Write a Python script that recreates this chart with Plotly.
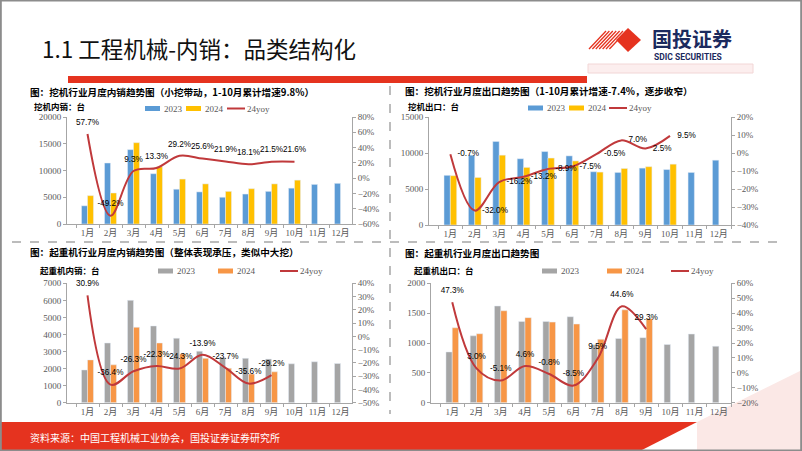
import plotly.graph_objects as go

W, H = 802, 451

months = ['1月', '2月', '3月', '4月', '5月', '6月', '7月', '8月', '9月', '10月', '11月', '12月']

exc_dom_2023 = [3400, 11400, 13900, 9400, 6500, 6000, 5000, 5600, 6100, 6700, 7400, 7600]
exc_dom_2024 = [5300, 5800, 15200, 10700, 8400, 7500, 6100, 6600, 7500, 8200]
exc_dom_yoy = [57.7, -49.2, 9.3, 13.3, 29.2, 25.6, 21.9, 18.1, 21.5, 21.6]

exc_exp_2023 = [6900, 9700, 11600, 9200, 10200, 9600, 7400, 7300, 7900, 7700, 7300, 9000]
exc_exp_2024 = [6850, 6600, 9700, 8000, 9300, 8900, 7350, 7850, 8100, 8450]
exc_exp_yoy = [-0.7, -32.0, -16.2, -13.2, -8.9, -7.5, -0.5, 7.0, 2.5, 9.5]

crane_dom_2023 = [1920, 3500, 6000, 4500, 3780, 3020, 2650, 2600, 2560, 2280, 2400, 2300]
crane_dom_2024 = [2510, 2220, 4420, 3500, 2860, 2600, 2020, 1680, 1810]
crane_dom_yoy = [30.9, -36.4, -26.3, -22.3, -24.3, -13.9, -23.7, -35.6, -29.2]

crane_exp_2023 = [850, 1120, 1620, 1360, 1360, 1440, 970, 1075, 1090, 975, 1150, 945]
crane_exp_2024 = [1255, 1155, 1540, 1425, 1350, 1318, 1062, 1555, 1410]
crane_exp_yoy = [47.3, 3.0, -5.1, 4.6, -0.8, -8.5, 9.5, 44.6, 29.3]

BLUE = '#5B9BD5'
YELLOW = '#FFC000'
GRAY = '#A5A5A5'
ORANGE = '#F79646'
LINE = '#C0393B'
RED = '#E5331F'
TICK = '#595959'
AXL = '#A6A6A6'
SERIF = 'Liberation Serif, Noto Sans CJK SC'
CJK = 'Noto Sans CJK SC'


def px(x):
    return x / W


def py(y):
    return 1 - y / H


fig = go.Figure()

charts = [
    ('x', 'y', 'y2', BLUE, YELLOW, exc_dom_2023, exc_dom_2024, exc_dom_yoy, 'top center'),
    ('x2', 'y3', 'y4', BLUE, YELLOW, exc_exp_2023, exc_exp_2024, exc_exp_yoy, 'middle right'),
    ('x3', 'y5', 'y6', GRAY, ORANGE, crane_dom_2023, crane_dom_2024, crane_dom_yoy, 'top center'),
    ('x4', 'y7', 'y8', GRAY, ORANGE, crane_exp_2023, crane_exp_2024, crane_exp_yoy, 'top center'),
]

for xa, yl, yr, c23, c24, d23, d24, yoy, tp in charts:
    fig.add_trace(go.Bar(x=months, y=d23, marker_color=c23, xaxis=xa, yaxis=yl,
                         offsetgroup='a', showlegend=False, name='2023'))
    fig.add_trace(go.Bar(x=months[:len(d24)], y=d24, marker_color=c24, xaxis=xa, yaxis=yl,
                         offsetgroup='b', showlegend=False, name='2024'))
    fig.add_trace(go.Scatter(x=months[:len(yoy)], y=yoy, mode='lines', xaxis=xa, yaxis=yr,
                             line=dict(color=LINE, width=2, shape='spline', smoothing=1),
                             showlegend=False, name='24yoy'))
    fig.add_trace(go.Scatter(x=months[:len(yoy)], y=yoy, mode='markers+text', xaxis=xa, yaxis=yr,
                             marker=dict(size=10, opacity=0),
                             text=[f'{v:.1f}%' for v in yoy], textposition=tp,
                             textfont=dict(family='Liberation Sans', size=8.2, color='#000000'),
                             cliponaxis=False, showlegend=False, hoverinfo='skip'))

tickfont = dict(family=SERIF, size=9, color=TICK)


def xax(x0, x1, anchor):
    return dict(domain=[px(x0), px(x1)], anchor=anchor, type='category',
                showline=True, linecolor=AXL, linewidth=1, ticks='outside', ticklen=3,
                tickcolor=AXL, tickson='boundaries', tickfont=tickfont, showgrid=False,
                tickangle=0, automargin=False, fixedrange=True)


def yax(y0, y1, anchor, rng, dtick, suffix='', side='left', overlay=None):
    d = dict(anchor=anchor, range=rng, dtick=dtick, showline=True, linecolor=AXL, linewidth=1,
             ticks='outside', ticklen=3, tickcolor=AXL, tickfont=tickfont, showgrid=False,
             zeroline=False, ticksuffix=suffix, side=side, tickformat='d', automargin=False,
             fixedrange=True)
    if overlay:
        d['overlaying'] = overlay
    else:
        d['domain'] = [py(y1), py(y0)]
    return d


fig.update_layout(
    width=W, height=H, margin=dict(l=0, r=0, t=0, b=0, autoexpand=False),
    paper_bgcolor='white', plot_bgcolor='rgba(0,0,0,0)',
    barmode='group', bargap=0.48, bargroupgap=0,
    showlegend=False,
    xaxis=xax(67, 352, 'y'),
    yaxis=yax(117, 224, 'x', [0, 20000], 5000),
    yaxis2=yax(117, 224, 'x', [-60, 80], 20, '%', 'right', 'y'),
    xaxis2=xax(429, 731, 'y3'),
    yaxis3=yax(117, 225, 'x2', [0, 15000], 5000),
    yaxis4=yax(117, 225, 'x2', [-40, 20], 10, '%', 'right', 'y3'),
    xaxis3=xax(67, 352, 'y5'),
    yaxis5=yax(283.3, 402.7, 'x3', [0, 7000], 1000),
    yaxis6=yax(283.3, 402.7, 'x3', [-50, 40], 10, '%', 'right', 'y5'),
    xaxis4=xax(431, 731, 'y7'),
    yaxis7=yax(283.3, 402.7, 'x4', [0, 2000], 500),
    yaxis8=yax(283.3, 402.7, 'x4', [-20, 60], 10, '%', 'right', 'y7'),
)

shapes = []
ann = []


def rect(x0, y0, x1, y1, fill, line=None, lw=0):
    shapes.append(dict(type='rect', xref='paper', yref='paper', x0=px(x0), x1=px(x1),
                       y0=py(y1), y1=py(y0), fillcolor=fill,
                       line=dict(color=line or fill, width=lw), layer='above'))


def seg(x0, y0, x1, y1, color, width=1, dash='solid'):
    shapes.append(dict(type='line', xref='paper', yref='paper', x0=px(x0), x1=px(x1),
                       y0=py(y0), y1=py(y1), line=dict(color=color, width=width, dash=dash),
                       layer='above'))


def poly(pts, fill, layer='above'):
    path = 'M ' + ' L '.join(f'{px(x):.5f},{py(y):.5f}' for x, y in pts) + ' Z'
    shapes.append(dict(type='path', xref='paper', yref='paper', path=path, fillcolor=fill,
                       line=dict(width=0), layer=layer))


def text(x, y, s, size=9, color='#000000', family=CJK, xanchor='left'):
    ann.append(dict(x=px(x), y=py(y), xref='paper', yref='paper', text=s, showarrow=False,
                    xanchor=xanchor, yanchor='middle', font=dict(family=family, size=size, color=color)))


# footer background triangle (behind charts)
poly([(802, 370), (802, 451), (697, 451), (697, 422)], '#FBE8E6', layer='below')

# header
text(40, 48, '1.1 工程机械-内销：品类结构化', size=22.5, color='#111111')
for i in range(7):
    x0 = 589 + i * 3.4
    seg(x0, 49, x0 + 17, 31, RED, 1.3)
poly([(616, 40), (628, 28), (641, 40), (628, 52)], RED)
text(650, 38.5, '<b>国投证券</b>', size=20, color='#1B2A5E')
text(652, 57, '<b>SDIC SECURITIES</b>', size=8.5, color='#1B2A5E', family='Roboto')
rect(588, 64, 753, 73, '#FCEEEE', '#F2D6D6', 1)
rect(68, 76, 587, 83, RED)

# separators
seg(390, 86, 390, 414, '#A6A6A6', 1.5, 'dash')
seg(12, 242, 778, 242, '#A6A6A6', 1.5, 'dash')

# chart titles
text(28, 91.5, '<b>图：挖机行业月度内销趋势图（小挖带动，1-10月累计增速9.8%）</b>', size=9.6)
text(403, 91, '<b>图：挖机行业月度出口趋势图（1-10月累计增速-7.4%，逐步收窄）</b>', size=9.6)
text(28, 252, '<b>图：起重机行业月度内销趋势图（整体表现承压，类似中大挖）</b>', size=9.6)
text(403, 253, '<b>图：起重机行业月度出口趋势图</b>', size=9.6)

# unit labels
text(32, 106, '<b>挖机内销：台</b>', size=8.5)
text(406, 106, '<b>挖机出口：台</b>', size=8.5)
text(38, 270, '<b>起重机内销：台</b>', size=8.5)
text(412, 270, '<b>起重机出口：台</b>', size=8.5)


def legend(y, x23, x24, xl, c23, c24):
    rect(x23, y - 2.5, x23 + 15, y + 2.5, c23)
    text(x23 + 17, y, '2023', size=9, color=TICK, family=SERIF)
    rect(x24, y - 2.5, x24 + 15, y + 2.5, c24)
    text(x24 + 17, y, '2024', size=9, color=TICK, family=SERIF)
    seg(xl, y, xl + 18, y, LINE, 2)
    text(xl + 18, y, '24yoy', size=9, color=TICK, family=SERIF)


legend(108.5, 145, 186, 227, BLUE, YELLOW)
legend(108, 528, 569, 609, BLUE, YELLOW)
legend(271, 158, 218, 280, GRAY, ORANGE)
legend(271, 542, 607, 671, GRAY, ORANGE)

# footer band
poly([(0, 422), (697, 422), (640, 451), (0, 451)], RED)
text(28, 437, '资料来源：中国工程机械工业协会，国投证券证券研究所', size=10, color='#FFFFFF')

shapes.append(dict(type='rect', xref='paper', yref='paper', x0=0.001, x1=0.999, y0=0.001, y1=0.999,
                   line=dict(color='#8C8C8C', width=2), fillcolor='rgba(0,0,0,0)', layer='above'))

fig.update_layout(shapes=shapes, annotations=ann)
fig.write_html('out.html', config={'displayModeBar': False},
               post_script="document.body.style.margin='0';document.body.style.overflow='hidden';")
